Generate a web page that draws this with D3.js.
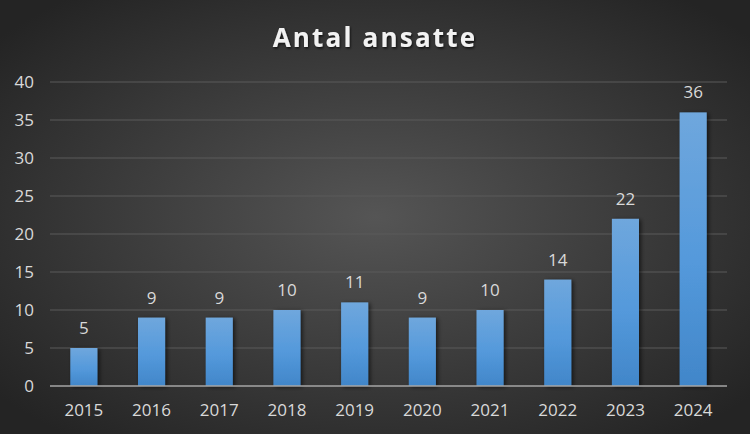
<!DOCTYPE html>
<html><head><meta charset="utf-8">
<script src="https://cdn.jsdelivr.net/npm/d3@7"></script>
<style>html,body{margin:0;padding:0;background:#2a2a2a;}svg{display:block;}</style>
</head><body>
<script>
const categories = ["2015","2016","2017","2018","2019","2020","2021","2022","2023","2024"];
const values = [5,9,9,10,11,9,10,14,22,36];
const yTicks = [0,5,10,15,20,25,30,35,40];
const title = "Antal ansatte";

const W = 750, H = 434;
const m = {left:50, right:23, top:82, bottom:48};
const FONT = "'Open Sans', sans-serif";
const svg = d3.select("body").append("svg").attr("width",W).attr("height",H);
const defs = svg.append("defs");
const bg = defs.append("radialGradient").attr("id","bg").attr("cx","50%").attr("cy","50%").attr("r","65%");
bg.append("stop").attr("offset","0%").attr("stop-color","#555555");
bg.append("stop").attr("offset","100%").attr("stop-color","#242424");
const bar = defs.append("linearGradient").attr("id","bar").attr("x1",0).attr("y1",0).attr("x2",0).attr("y2",1);
bar.append("stop").attr("offset","0%").attr("stop-color","#6fa7dd");
bar.append("stop").attr("offset","55%").attr("stop-color","#5499db");
bar.append("stop").attr("offset","100%").attr("stop-color","#4186c9");
const sh = defs.append("filter").attr("id","sh").attr("x","-50%").attr("y","-10%").attr("width","200%").attr("height","120%");
sh.append("feDropShadow").attr("dx",2).attr("dy",1).attr("stdDeviation",2).attr("flood-color","#000").attr("flood-opacity",0.6);
const tsh = defs.append("filter").attr("id","tsh");
tsh.append("feDropShadow").attr("dx",1).attr("dy",1.5).attr("stdDeviation",1).attr("flood-color","#000").attr("flood-opacity",0.7);

svg.append("rect").attr("width",W).attr("height",H).attr("fill","url(#bg)");

const x = d3.scaleBand().domain(categories).range([m.left, W-m.right]).paddingInner(0.6).paddingOuter(0.3);
const y = d3.scaleLinear().domain([0,40]).range([H-m.bottom, m.top]);

// gridlines
svg.append("g").selectAll("line").data(yTicks.filter(d=>d>0)).join("line")
  .attr("x1",m.left).attr("x2",W-m.right)
  .attr("y1",d=>y(d)).attr("y2",d=>y(d))
  .attr("stroke","#5a5a5a").attr("stroke-width",1.2);

// y axis labels
const yAxis = d3.axisLeft(y).tickValues(yTicks).tickSize(0).tickPadding(0);
const gy = svg.append("g").attr("transform",`translate(${m.left-16},0)`).call(yAxis);
gy.select(".domain").remove();
gy.selectAll("text").attr("fill","#d9d9d9").attr("font-family",FONT).attr("font-size",17).attr("dy","0.35em");

// bars
svg.append("g").selectAll("rect").data(values).join("rect")
  .attr("x",(d,i)=>x(categories[i])).attr("width",x.bandwidth())
  .attr("y",d=>y(d)).attr("height",d=>y(0)-y(d))
  .attr("fill","url(#bar)").attr("filter","url(#sh)");

// baseline
svg.append("line").attr("x1",m.left).attr("x2",W-m.right).attr("y1",y(0)).attr("y2",y(0))
  .attr("stroke","#a6a6a6").attr("stroke-width",1.5);

// x axis
const xAxis = d3.axisBottom(x).tickSize(0).tickPadding(0);
const gx = svg.append("g").attr("transform",`translate(0,${y(0)+30})`).call(xAxis);
gx.select(".domain").remove();
gx.selectAll("text").attr("fill","#d9d9d9").attr("font-family",FONT).attr("font-size",17).attr("dy","0");

// value labels
svg.append("g").selectAll("text").data(values).join("text")
  .attr("x",(d,i)=>x(categories[i])+x.bandwidth()/2).attr("y",d=>y(d)-14)
  .attr("text-anchor","middle").attr("fill","#d9d9d9")
  .attr("font-family",FONT).attr("font-size",17)
  .text(d=>d);

// title
svg.append("text").attr("x",W/2).attr("y",47).attr("text-anchor","middle")
  .attr("fill","#f2f2f2").attr("font-family",FONT)
  .attr("font-weight","bold").attr("font-size",26).attr("letter-spacing",2.2)
  .attr("filter","url(#tsh)").text(title);
</script>
</body></html>
